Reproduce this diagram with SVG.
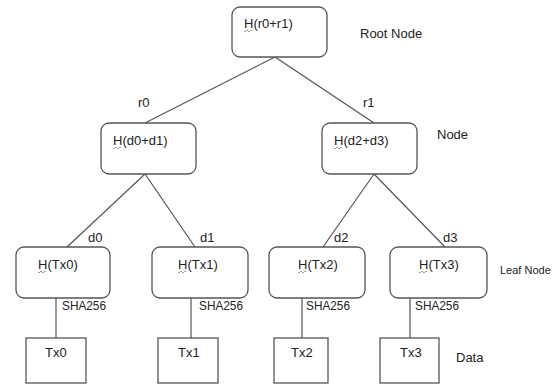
<svg xmlns="http://www.w3.org/2000/svg" width="558" height="387" viewBox="0 0 558 387">
<style>
text{font-family:"Liberation Sans",Arial,sans-serif;font-size:13px;fill:#222}
.n{fill:#fff;stroke:#555;stroke-width:1.3}
.e{stroke:#555;stroke-width:1.2;fill:none}
.w{stroke:#888;stroke-width:0.8;fill:none}
</style>
<rect width="558" height="387" fill="#fff"/>
<g id="connectors">
<path class="e" d="M275 57L145 123M275 57L374 123"/>
<path class="e" d="M145 174L67 247M145 174L195 247M374 174L323 247M374 174L445 247"/>
<path class="e" d="M56 298V338M191 298V338M302 298V338M410 298V338"/>
<text x="138" y="107">r0</text>
<text x="363" y="107">r1</text>
<text x="88" y="242">d0</text>
<text x="200" y="242">d1</text>
<text x="334" y="242">d2</text>
<text x="443" y="242">d3</text>
<text x="62" y="310" textLength="44" lengthAdjust="spacingAndGlyphs">SHA256</text>
<text x="199" y="310" textLength="44" lengthAdjust="spacingAndGlyphs">SHA256</text>
<text x="306" y="310" textLength="44" lengthAdjust="spacingAndGlyphs">SHA256</text>
<text x="415" y="310" textLength="44" lengthAdjust="spacingAndGlyphs">SHA256</text>
</g>
<g id="root"><rect class="n" x="232" y="7" width="95" height="50" rx="8"/><text x="244" y="28">H(r0+r1)</text><path class="w" d="M244 31q1 2 2 0t2 0t2 0t2 0"/></g>
<g id="node-d0d1"><rect class="n" x="101" y="123" width="95" height="51" rx="8"/><text x="113" y="145">H(d0+d1)</text><path class="w" d="M113 148q1 2 2 0t2 0t2 0t2 0"/></g>
<g id="node-d2d3"><rect class="n" x="322" y="123" width="95" height="51" rx="8"/><text x="334" y="145">H(d2+d3)</text><path class="w" d="M334 148q1 2 2 0t2 0t2 0t2 0"/></g>
<g id="leaf-tx0"><rect class="n" x="16" y="247" width="94" height="51" rx="8"/><text x="38" y="269">H(Tx0)</text><path class="w" d="M38 272q1 2 2 0t2 0t2 0t2 0"/></g>
<g id="leaf-tx1"><rect class="n" x="152" y="247" width="96" height="51" rx="8"/><text x="178" y="269">H(Tx1)</text><path class="w" d="M178 272q1 2 2 0t2 0t2 0t2 0"/></g>
<g id="leaf-tx2"><rect class="n" x="269" y="247" width="96" height="51" rx="8"/><text x="298" y="269">H(Tx2)</text><path class="w" d="M298 272q1 2 2 0t2 0t2 0t2 0"/></g>
<g id="leaf-tx3"><rect class="n" x="390" y="247" width="97" height="51" rx="8"/><text x="419" y="269">H(Tx3)</text><path class="w" d="M419 272q1 2 2 0t2 0t2 0t2 0"/></g>
<g id="data-tx0"><rect class="n" x="26" y="338" width="60" height="45"/><text x="45" y="357">Tx0</text></g>
<g id="data-tx1"><rect class="n" x="158" y="338" width="60" height="45"/><text x="178" y="357">Tx1</text></g>
<g id="data-tx2"><rect class="n" x="274" y="338" width="54" height="45"/><text x="291" y="357">Tx2</text></g>
<g id="data-tx3"><rect class="n" x="380" y="338" width="59" height="45"/><text x="400" y="357">Tx3</text></g>
<g id="labels">
<text x="360" y="38">Root Node</text>
<text x="437" y="139">Node</text>
<text x="500" y="274" style="font-size:11px">Leaf Node</text>
<text x="456" y="362">Data</text>
</g>
</svg>
